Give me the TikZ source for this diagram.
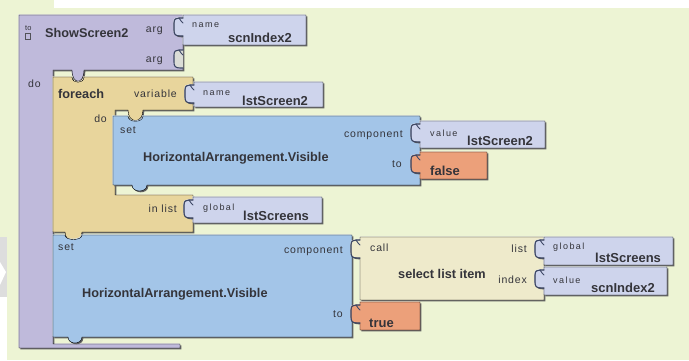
\documentclass[tikz,border=0pt]{standalone}
\usepackage{fontspec}
\setmainfont{Liberation Sans}
\newfontfamily\lblfont[LetterSpace=8]{Liberation Sans}
\newfontfamily\tagfont[LetterSpace=16]{Liberation Sans}

\definecolor{bg}{RGB}{237,244,212}
\definecolor{procc}{RGB}{191,186,219}
\definecolor{loopc}{RGB}{232,213,156}
\definecolor{setc}{RGB}{163,197,232}
\definecolor{argc}{RGB}{206,212,236}
\definecolor{callc}{RGB}{238,234,203}
\definecolor{boolc}{RGB}{236,160,122}
\definecolor{txt}{RGB}{52,52,58}
\definecolor{sock}{RGB}{62,72,102}
\definecolor{wmgray}{RGB}{221,221,221}

\tikzset{
  block/.style={fill=#1,
    preaction={fill=white!55!#1, transform canvas={shift={(-0.7pt,0.7pt)}}},
    preaction={fill=black!62, transform canvas={shift={(1.3pt,-1.3pt)}}}},
  socketline/.style={draw=sock, line width=1.1pt, line cap=round},
  big/.style={font=\fontsize{12.7}{14}\selectfont\bfseries, text=txt, anchor=base west, inner sep=0pt},
  val/.style={font=\fontsize{13}{15}\selectfont\bfseries, text=txt, anchor=base west, inner sep=0pt},
  lbl/.style={font=\lblfont\fontsize{10.5}{12}\selectfont, text=txt, anchor=base west, inner sep=0pt},
  lblr/.style={lbl, anchor=base east},
  tag/.style={font=\tagfont\fontsize{9}{10}\selectfont, text=txt, anchor=base west, inner sep=0pt},
}

% C-shaped socket outline at left edge x, block top y
\newcommand\socketC[2]{%
  \draw[socketline] (#1,{#2+3}) -- ({#1-4},{#2+3})
    .. controls ({#1-7},{#2+3}) and ({#1-9},{#2+4}) .. ({#1-9},{#2+8})
    -- ({#1-9},{#2+15})
    .. controls ({#1-9},{#2+19}) and ({#1-8},{#2+21}) .. ({#1-3},{#2+21}) -- (#1,{#2+21});
  \draw[socketline, line width=0.9pt] ({#1-4},{#2+3}) .. controls ({#1-3},{#2+6}) and ({#1-1},{#2+6}) .. (#1,{#2+8});
}
% plugged value block: x1, y1, x2, y2, colour
\newcommand\valblk[5]{%
  \draw[block=#5] (#1,#2) -- (#3,#2) -- (#3,#4) -- (#1,#4) -- (#1,{#2+21}) -- ({#1-3},{#2+21})
    .. controls ({#1-8},{#2+21}) and ({#1-9},{#2+19}) .. ({#1-9},{#2+15})
    -- ({#1-9},{#2+8})
    .. controls ({#1-9},{#2+4}) and ({#1-7},{#2+3}) .. ({#1-4},{#2+3}) -- (#1,{#2+3}) -- cycle;
  \socketC{#1}{#2}
}

\begin{document}
\begin{tikzpicture}[x=1pt,y=-1pt]
\useasboundingbox (0,0) rectangle (689,360);
% page and canvas
\fill[bg] (0,0) rectangle (689,360);
\fill[white] (54,0) rectangle (689,8);
\fill[white] (0,237) rectangle (7,360);
\fill[wmgray] (0,237) rectangle (7,297);
\fill[white] (0,262) -- (6,272) -- (0,285) -- cycle;

% procedure block
\draw[block=procc] (19,15) -- (183,15) -- (183,70) -- (84,70)
  .. controls (84,85) and (72,85) .. (72,70) -- (53,70) -- (53,344)
  -- (180,344) -- (180,348) -- (19,348) -- cycle;
\draw[draw=txt!85, line width=0.7pt] (25.5,33.5) rectangle (30.5,39.5);
\valblk{183}{15}{306}{45}{argc}
% empty argument socket
\fill[bg!60!procc] (183,50) -- (179,50) .. controls (176,50) and (174,51) .. (174,55)
  -- (174,62) .. controls (174,66) and (175,68) .. (180,68) -- (183,68) -- cycle;
\socketC{183}{47}

% foreach block
\draw[block=loopc] (53,77) -- (72,77) .. controls (72,84) and (84,84) .. (84,77) -- (193,77)
  -- (193,110) -- (143,110) .. controls (143,124) and (128,124) .. (128,110)
  -- (115,110) -- (115,195) -- (193,195) -- (193,232) -- (82,232)
  .. controls (82,244) and (65,244) .. (65,232) -- (53,232) -- cycle;
\valblk{194}{82}{323}{107}{argc}
\valblk{193}{197}{322}{223}{argc}

% inner set block
\draw[block=setc] (113,116) -- (128,116) .. controls (128,123) and (143,123) .. (143,116)
  -- (420,116) -- (420,185) -- (147,185) .. controls (147,193) and (132,193) .. (132,185)
  -- (113,185) -- cycle;
\valblk{420}{121}{545}{148}{argc}
\valblk{420}{152}{487}{179}{boolc}

% outer set block
\draw[block=setc] (53,235) -- (65,235) .. controls (65,241) and (82,241) .. (82,235)
  -- (352,235) -- (352,337) -- (82,337) .. controls (82,345) and (68,345) .. (68,337)
  -- (53,337) -- cycle;
\valblk{360}{237}{544}{300}{callc}
\valblk{544}{237}{673}{265}{argc}
\valblk{544}{267}{667}{295}{argc}
\valblk{360}{302}{420}{330}{boolc}

% labels
\node[font=\fontsize{7.5}{8}\selectfont, text=txt, anchor=base west, inner sep=0pt] (toLbl) at (25,30.5) {to};
\node[big] (procName) at (45,37) {ShowScreen2};
\node[lblr] (arg1) at (163,32) {arg};
\node[lblr] (arg2) at (163,62) {arg};
\node[tag] (nm1) at (192,27) {name};
\node[val] (v1) at (228,42) {scnIndex2};
\node[lbl] (do1) at (28,87) {do};
\node[big] (feLbl) at (58,98) {foreach};
\node[lblr] (varLbl) at (177,97) {variable};
\node[tag] (nm2) at (203,95) {name};
\node[val] (v2) at (242,105) {lstScreen2};
\node[lblr] (do2) at (107,122) {do};
\node[lbl] (set1) at (120,133) {set};
\node[big] (prop1) at (143,161) {HorizontalArrangement.Visible};
\node[lblr] (comp1) at (403,137) {component};
\node[tag] (vl1) at (430,136) {value};
\node[val] (v3) at (467,145) {lstScreen2};
\node[lblr] (to1) at (402,167) {to};
\node[val] (f1) at (430,175) {false};
\node[lblr] (inl) at (177,212) {in list};
\node[tag] (gl1) at (203,210) {global};
\node[val] (v4) at (243,220) {lstScreens};
\node[lbl] (set2) at (58,250) {set};
\node[lblr] (comp2) at (343,253) {component};
\node[big] (prop2) at (82,297) {HorizontalArrangement.Visible};
\node[lblr] (to2) at (343,317) {to};
\node[lbl] (callLbl) at (370,251) {call};
\node[big] (sli) at (398,278) {select list item};
\node[lblr] (lstLbl) at (527,252) {list};
\node[lblr] (idxLbl) at (527,283) {index};
\node[tag] (gl2) at (553,249) {global};
\node[val] (v5) at (595,262) {lstScreens};
\node[tag] (vl2) at (553,283) {value};
\node[val] (v6) at (591,292) {scnIndex2};
\node[val] (t1) at (369,327) {true};
\end{tikzpicture}
\end{document}
